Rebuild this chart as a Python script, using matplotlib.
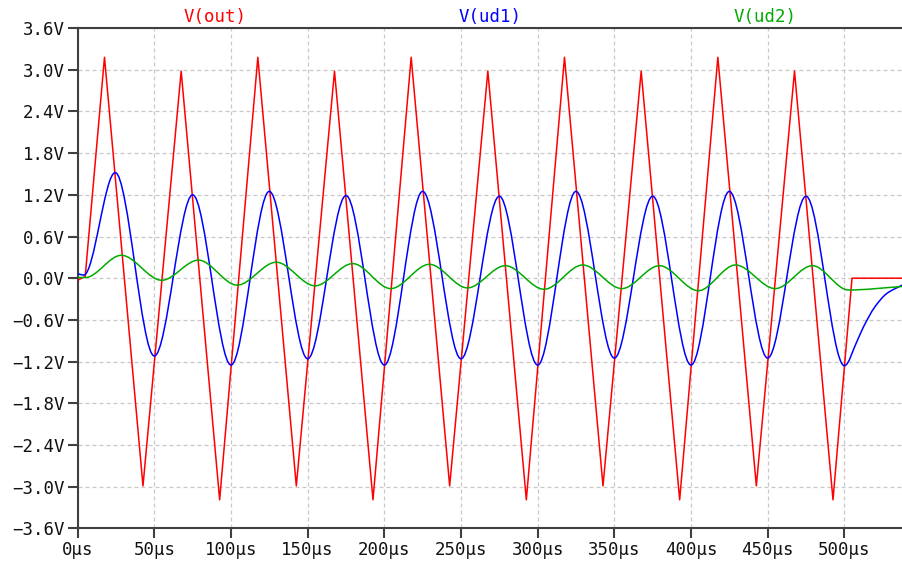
import numpy as np
import matplotlib
matplotlib.use("Agg")
import matplotlib.pyplot as plt
from matplotlib.path import Path
from matplotlib.patches import PathPatch

# V(out): triangle wave corners (time in us, volts)
out_t = [0, 2.5, 4.9, 17.5, 42.6, 67.5, 92.6, 117.5, 142.6, 167.5, 192.6,
         217.5, 242.6, 267.5, 292.6, 317.5, 342.6, 367.5, 392.6, 417.5,
         442.6, 467.5, 492.6, 505.0, 537.6]
out_v = [-0.03, 0.0, 0.02, 3.18, -2.99, 2.98, -3.19, 3.18, -2.99, 2.98, -3.19,
         3.18, -2.99, 2.98, -3.19, 3.18, -2.99, 2.98, -3.19, 3.18,
         -2.99, 2.98, -3.19, 0.0, 0.0]

# V(ud1): peaks/troughs plus the decay after the drive stops
ud1_t = [0, 4, 24.5, 50, 75, 100, 125, 150, 175, 200, 225, 250, 275, 300,
         325, 350, 375, 400, 425, 450, 475, 500, 508.6, 512.5, 520, 527.7, 537.6]
ud1_v = [0.06, 0.045, 1.52, -1.12, 1.20, -1.25, 1.25, -1.16, 1.19, -1.25,
         1.25, -1.16, 1.18, -1.25, 1.25, -1.15, 1.18, -1.25, 1.25, -1.15,
         1.18, -1.26, -0.89, -0.70, -0.41, -0.22, -0.10]

# V(ud2): peaks/troughs
ud2_t = [0, 5, 28.5, 54.8, 78.8, 104.0, 129.5, 154.8, 179.4, 204.2, 229.4,
         254.2, 278.9, 304.2, 329.4, 354.9, 379.4, 404.8, 429.0, 454.9,
         479.2, 502.6, 537.6]
ud2_v = [0.01, 0.01, 0.33, -0.03, 0.26, -0.10, 0.23, -0.11, 0.21, -0.15,
         0.20, -0.14, 0.18, -0.16, 0.19, -0.15, 0.18, -0.18, 0.19, -0.15,
         0.18, -0.17, -0.12]

x_ticks = [0, 50, 100, 150, 200, 250, 300, 350, 400, 450, 500]
y_ticks = [-3.6, -3.0, -2.4, -1.8, -1.2, -0.6, 0.0, 0.6, 1.2, 1.8, 2.4, 3.0, 3.6]


def smooth_path(t, v):
    # monotone cubic through the knots, flat at every extremum
    t = np.asarray(t, float)
    v = np.asarray(v, float)
    d = np.diff(v) / np.diff(t)
    m = np.zeros_like(v)
    for i in range(1, len(v) - 1):
        if d[i - 1] * d[i] > 0:
            m[i] = 2.0 / (1.0 / d[i - 1] + 1.0 / d[i])
    m[-1] = d[-1]
    verts = [(t[0], v[0])]
    codes = [Path.MOVETO]
    for i in range(len(t) - 1):
        h = t[i + 1] - t[i]
        verts += [(t[i] + h / 3, v[i] + m[i] * h / 3),
                  (t[i + 1] - h / 3, v[i + 1] - m[i + 1] * h / 3),
                  (t[i + 1], v[i + 1])]
        codes += [Path.CURVE4] * 3
    return Path(verts, codes)


mono = "DejaVu Sans Mono"
fs = 12.5
spine_col = "#404040"

fig = plt.figure(figsize=(9.02, 5.62), dpi=100)
ax = fig.add_axes([0.0861, 0.060, 0.9139, 0.890])

ax.plot(out_t, out_v, color="#ff0000", lw=1.1, zorder=3)
ax.add_patch(PathPatch(smooth_path(ud1_t, ud1_v), fill=False,
                       edgecolor="#0000ff", lw=1.1, zorder=4))
ax.add_patch(PathPatch(smooth_path(ud2_t, ud2_v), fill=False,
                       edgecolor="#00aa00", lw=1.1, zorder=5))

ax.set_xlim(0, 537.6)
ax.set_ylim(-3.6, 3.6)
ax.set_xticks(x_ticks)
ax.set_xticklabels([f"{x}\u00b5s" for x in x_ticks])
ax.set_yticks(y_ticks)
ax.set_yticklabels([(f"{y:.1f}V").replace("-", "\u2212") if y != 0 else "0.0V"
                    for y in y_ticks])

ax.grid(True, color="#c8c8c8", lw=0.9, linestyle=(0, (3.2, 2.4)))
ax.set_axisbelow(True)

ax.spines["right"].set_visible(False)
for s in ("left", "bottom", "top"):
    ax.spines[s].set_color(spine_col)
    ax.spines[s].set_linewidth(1.5)
ax.tick_params(direction="out", length=7.5, width=1.5, color=spine_col,
               labelsize=fs, pad=1.5)
for lab in ax.get_xticklabels() + ax.get_yticklabels():
    lab.set_family(mono)
    lab.set_color("#111111")

for xpos, name, col in [(1 / 6, "V(out)", "#ff0000"),
                        (3 / 6, "V(ud1)", "#0000ff"),
                        (5 / 6, "V(ud2)", "#00aa00")]:
    ax.text(xpos, 1.005, name, transform=ax.transAxes, ha="center",
            va="bottom", color=col, fontsize=fs, family=mono)

fig.savefig("out.png", dpi=100)
